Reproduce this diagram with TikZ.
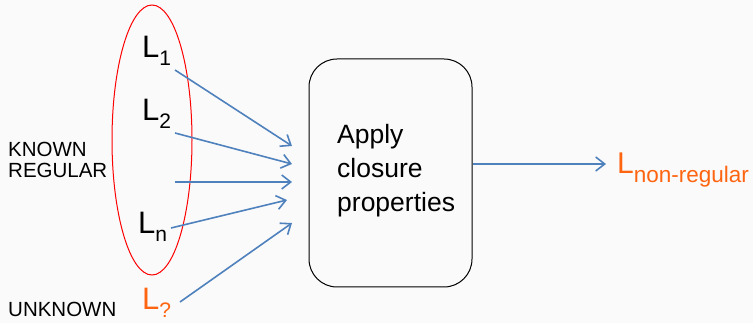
\documentclass[tikz,border=0pt]{standalone}
\usepackage{fontspec}
\setmainfont{Liberation Sans}
\usetikzlibrary{arrows.meta}
\definecolor{bg}{HTML}{FAFAFA}
\definecolor{arrowblue}{HTML}{4F81BD}
\definecolor{langorange}{HTML}{FF6410}
\newcommand{\lang}[1]{L\raisebox{-8pt}{\fontsize{21}{21}\selectfont #1}}
\tikzset{
  langlabel/.style={anchor=base west, inner sep=0pt, font=\fontsize{31}{31}\selectfont},
  sidetext/.style={anchor=base west, inner sep=0pt, align=left, font=\fontsize{20.5}{21}\selectfont},
  feed/.style={draw=arrowblue, line width=1.6pt, -{Straight Barb[length=9pt,width=14pt,line width=1.6pt]}},
}
\begin{document}
\begin{tikzpicture}[x=1pt,y=-1pt]
  \fill[bg] (0,0) rectangle (753,323);
  \useasboundingbox (0,0) rectangle (753,323);

  % group of known regular languages
  \draw[red, line width=1pt] (152,140) ellipse [x radius=40, y radius=135];

  % multi-line nodes: base anchor sits on the last line
  \node[sidetext] (known) at (8,178) {KNOWN\\REGULAR};
  \node[sidetext] (unknown) at (8,317) {UNKNOWN};

  \node[langlabel] (l1) at (142,58) {\lang{1}};
  \node[langlabel] (l2) at (142,121) {\lang{2}};
  \node[langlabel] (ln) at (138,234) {\lang{n}};
  \node[langlabel, text=langorange] (lq) at (142,310) {\lang{?}};

  % operation box
  \node[draw, line width=1pt, rounded corners=28pt, minimum width=163pt, minimum height=228pt,
        inner sep=0pt] (box) at (390.5,173) {};
  \node[anchor=base west, inner sep=0pt, align=left, font=\fontsize{26.5}{34}\selectfont]
        (apply) at (337,212) {Apply\\closure\\properties};

  % inputs into the box
  \coordinate (a1s) at (175,70);   \coordinate (a1e) at (292,146);
  \coordinate (a2s) at (175,133);  \coordinate (a2e) at (292,164);
  \coordinate (a3s) at (175,182);  \coordinate (a3e) at (292,182);
  \coordinate (a4s) at (171,228);  \coordinate (a4e) at (287,200);
  \coordinate (a5s) at (180,302);  \coordinate (a5e) at (292,223);
  \draw[feed] (a1s) -- (a1e);
  \draw[feed] (a2s) -- (a2e);
  \draw[feed] (a3s) -- (a3e);
  \draw[feed] (a4s) -- (a4e);
  \draw[feed] (a5s) -- (a5e);

  % result
  \node[anchor=base west, inner sep=0pt, text=langorange, font=\fontsize{30}{30}\selectfont]
        (lnr) at (617,174) {L\raisebox{-9pt}{\fontsize{22.5}{22.5}\selectfont non-regular}};
  \draw[feed] (box.east |- 0,164) -- (606,164);
\end{tikzpicture}
\end{document}
